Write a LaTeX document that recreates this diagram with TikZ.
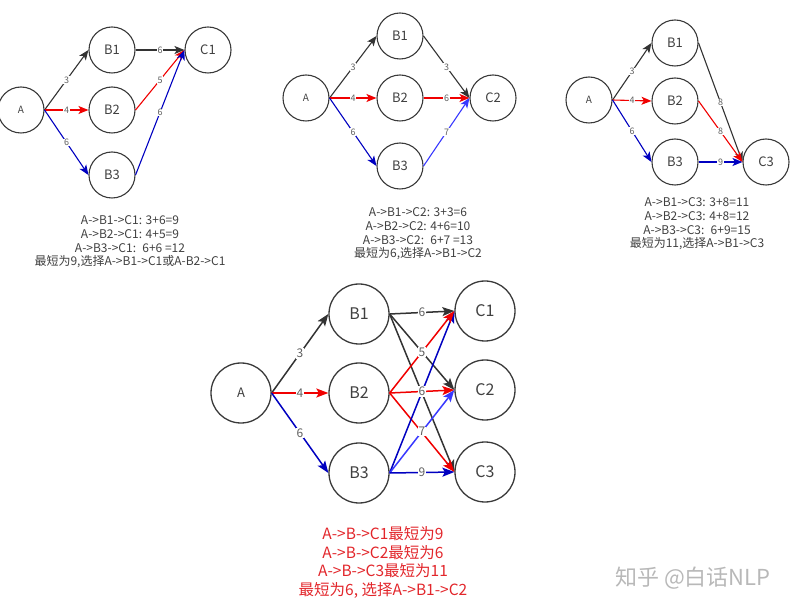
\documentclass[tikz,border=0pt]{standalone}
\usepackage{fontspec}
\setmainfont{Noto Sans CJK SC}
\usepackage{tikz}
\usetikzlibrary{arrows.meta}
\definecolor{edgeGrey}{HTML}{333333}
\definecolor{nodeGrey}{HTML}{3A3A3A}
\definecolor{txtGrey}{HTML}{404040}
\definecolor{lblGrey}{HTML}{606060}
\definecolor{edgeRed}{HTML}{F00000}
\definecolor{dkBlue}{HTML}{0000C0}
\definecolor{ltBlue}{HTML}{3838FF}
\definecolor{capRed}{HTML}{E2262B}
\definecolor{wmGrey}{HTML}{B8B8B8}

\begin{document}
\begin{tikzpicture}[x=1pt,y=-1pt,
  vtx/.style={circle,draw=nodeGrey,line width=1.1pt,minimum size=46pt,inner sep=0pt,
              text=txtGrey,font=\fontsize{13}{13}\selectfont},
  vtxs/.style={vtx,font=\fontsize{10}{10}\selectfont},
  bvtx/.style={vtx,minimum size=60pt,line width=1.3pt,font=\fontsize{16}{16}\selectfont},
  bvtxs/.style={bvtx,font=\fontsize{13}{13}\selectfont},
  fl/.style={-{Stealth[length=10pt,width=8pt,inset=2.5pt]},draw=edgeGrey,line width=1.1pt},
  bfl/.style={fl,line width=1.5pt,-{Stealth[length=12pt,width=9pt,inset=2.5pt]}},
  lb/.style={font=\fontsize{9}{9}\selectfont,text=lblGrey,fill=white,inner sep=0.6pt},
  blb/.style={lb,font=\fontsize{12}{12}\selectfont},
  capt/.style={align=center,text=txtGrey,font=\fontsize{12}{13.6}\selectfont}]
\useasboundingbox (0,0) rectangle (798,609);

\node[vtxs] (lA)  at ( 21,110) {A};
\node[vtx]  (lB1) at (112, 50) {B1};
\node[vtx]  (lB2) at (112,110) {B2};
\node[vtx]  (lB3) at (112,175) {B3};
\node[vtx]  (lC1) at (208, 50) {C1};

\draw[fl] (lA.east) -- node[lb]{3} (lB1.west);
\draw[fl,draw=edgeRed] (lA.east) -- node[lb]{4} (lB2.west);
\draw[fl,draw=dkBlue] (lA.east) -- node[lb]{6} (lB3.west);
\draw[fl] (lB1.east) -- node[lb]{6} (lC1.west);
\draw[fl,draw=edgeRed] (lB2.east) -- node[lb]{5} (lC1.west);
\draw[fl,draw=dkBlue] (lB3.east) -- node[lb]{6} (lC1.west);

\node[capt] (lcap) at (130,242) {A->B1->C1: 3+6=9\\A->B2->C1: 4+5=9\\A->B3->C1: \ 6+6 =12\\最短为9,选择A->B1->C1或A-B2->C1};

\node[vtxs] (mA)  at (306, 98) {A};
\node[vtx]  (mB1) at (400, 36) {B1};
\node[vtx]  (mB2) at (400, 98) {B2};
\node[vtx]  (mB3) at (400,166) {B3};
\node[vtx]  (mC2) at (493, 98) {C2};

\draw[fl] (mA.east) -- node[lb]{3} (mB1.west);
\draw[fl,draw=edgeRed] (mA.east) -- node[lb]{4} (mB2.west);
\draw[fl,draw=dkBlue] (mA.east) -- node[lb]{6} (mB3.west);
\draw[fl] (mB1.east) -- node[lb]{3} (mC2.west);
\draw[fl,draw=edgeRed] (mB2.east) -- node[lb]{6} (mC2.west);
\draw[fl,draw=ltBlue] (mB3.east) -- node[lb]{7} (mC2.west);

\node[capt] (mcap) at (418,234) {A->B1->C2: 3+3=6\\A->B2->C2: 4+6=10\\A->B3->C2: \ 6+7 =13\\最短为6,选择A->B1->C2};

\node[vtxs] (rA)  at (589,100) {A};
\node[vtx]  (rB1) at (675, 43) {B1};
\node[vtx]  (rB2) at (675,101) {B2};
\node[vtx]  (rB3) at (675,162) {B3};
\node[vtx]  (rC3) at (766,162) {C3};

\draw[fl] (rA.east) -- node[lb]{3} (rB1.west);
\draw[fl,draw=edgeRed] (rA.east) -- node[lb]{4} (rB2.west);
\draw[fl,draw=dkBlue] (rA.east) -- node[lb]{6} (rB3.west);
\draw[fl] (rB1.east) -- node[lb]{8} (rC3.west);
\draw[fl,draw=edgeRed] (rB2.east) -- node[lb]{8} (rC3.west);
\draw[fl,draw=dkBlue] (rB3.east) -- node[lb]{9} (rC3.west);

\node[capt] (rcap) at (697,224) {A->B1->C3: 3+8=11\\A->B2->C3: 4+8=12\\A->B3->C3: \ 6+9=15\\最短为11,选择A->B1->C3};

\node[bvtxs] (A)  at (241,393) {A};
\node[bvtx]  (B1) at (359,314) {B1};
\node[bvtx]  (B2) at (359,393) {B2};
\node[bvtx]  (B3) at (359,473) {B3};
\node[bvtx]  (C1) at (485,311) {C1};
\node[bvtx]  (C2) at (485,390) {C2};
\node[bvtx]  (C3) at (485,472) {C3};

\draw[bfl] (A.east) -- node[blb]{3} (B1.west);
\draw[bfl,draw=edgeRed] (A.east) -- node[blb]{4} (B2.west);
\draw[bfl,draw=dkBlue] (A.east) -- node[blb]{6} (B3.west);

\draw[bfl] (B1.east) -- (C2.west);
\draw[bfl] (B1.east) -- (C3.west);
\draw[bfl,draw=edgeRed] (B2.east) -- (C3.west);
\draw[bfl,draw=dkBlue] (B3.east) -- (C1.west);
\draw[bfl] (B1.east) -- node[blb]{6} (C1.west);
\draw[bfl,draw=edgeRed] (B2.east) -- node[blb]{5} (C1.west);
\draw[bfl,draw=edgeRed] (B2.east) -- node[blb]{6} (C2.west);
\draw[bfl,draw=ltBlue] (B3.east) -- node[blb]{7} (C2.west);
\draw[bfl,draw=dkBlue] (B3.east) -- node[blb]{9} (C3.west);

\node[capt,text=capRed,font=\fontsize{15.5}{18.5}\selectfont] (bcap) at (383,562.5)
  {A->B->C1最短为9\\A->B->C2最短为6\\A->B->C3最短为11\\最短为6, 选择A->B1->C2};

\node[text=wmGrey,font=\fontsize{22}{22}\selectfont] (wm) at (693,578) {知乎 @白话NLP};
\end{tikzpicture}
\end{document}
